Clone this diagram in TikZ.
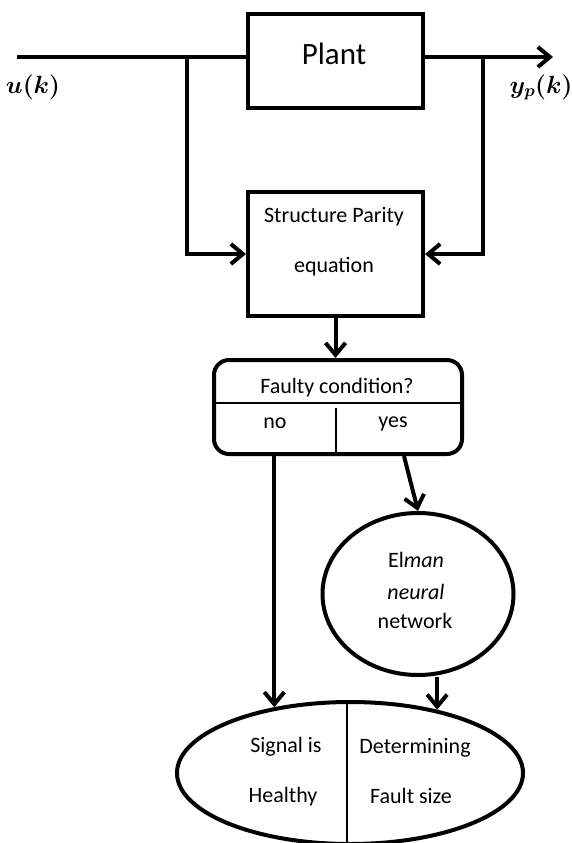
\documentclass[tikz,border=0pt]{standalone}
\usepackage{fontspec}
\setmainfont{Carlito}
\usepackage{amsmath}
\usetikzlibrary{positioning,shapes.geometric,arrows.meta}

\begin{document}
\begin{tikzpicture}[x=1pt, y=-1pt, line width=4pt,
    font=\fontsize{22}{26}\selectfont,
    block/.style={draw, rectangle, inner sep=0pt},
    oval/.style={draw, ellipse, inner sep=0pt},
    txt/.style={anchor=base, inner sep=0pt},
    signal/.style={txt, font=\fontsize{23}{27}\selectfont\boldmath},
    arr/.style={-{Straight Barb[length=12pt,width=20pt]}},
    divider/.style={line width=1.4pt}]
    \useasboundingbox (0,0) rectangle (571,843);
    % place nodes
    \node [block, minimum width=175pt, minimum height=94pt] (plant) at (335.5,61) {};
    \node [block, minimum width=175pt, minimum height=124pt, below=80pt of plant] (parity) {};
    \node [block, rounded corners=15pt, minimum width=248pt, minimum height=94pt] (fault) at (338,407) {};
    \node [oval, minimum width=191pt, minimum height=162pt] (elman) at (418,594) {};
    \node [oval, minimum width=346pt, minimum height=142pt] (result) at (350,773) {};
    \coordinate (uin) at (17,57);
    \coordinate (ubranch) at (187,57);
    \coordinate (ybranch) at (483,57);
    \coordinate (yout) at (553,57);
    % place labels
    \node [txt, font=\fontsize{31}{36}\selectfont] (plantText) at (334,65) {Plant};
    \node [signal] (uLabel) at (33,93) {$u(k)$};
    \node [signal] (yLabel) at (541,93) {$y_p(k)$};
    \node [txt] (parityA) at (334,222) {Structure Parity};
    \node [txt] (parityB) at (334,272) {equation};
    \node [txt] (faultText) at (337,393) {Faulty condition?};
    \node [txt] (noText) at (275,428) {no};
    \node [txt] (yesText) at (393,427) {yes};
    \node [txt] (elmanA) at (416,567) {El\textit{man}};
    \node [txt] (elmanB) at (416,599) {\textit{neural}};
    \node [txt] (elmanC) at (415,628) {network};
    \node [txt] (healthyA) at (286,752) {Signal is};
    \node [txt] (healthyB) at (283,802) {Healthy};
    \node [txt] (sizeA) at (415,753) {Determining};
    \node [txt] (sizeB) at (411,803) {Fault size};
    % draw edges
    \draw (uin) -- (uin -| plant.west);
    \draw [arr] (plant.east |- yout) -- (yout);
    \draw [arr] (ubranch) |- (parity.west);
    \draw [arr] (ybranch) |- (parity.east);
    \draw [arr] (parity.south) -- (parity.south |- fault.north);
    \draw [divider] ([yshift=4pt]fault.west) -- ([yshift=4pt]fault.east);
    \draw [divider] ([xshift=-2pt,yshift=-1pt]fault.center) -- ([xshift=-2pt]fault.south);
    \draw [arr] (fault.south -| result.139) -- (result.139);
    \draw [arr] ([xshift=66pt]fault.south) -- (elman.north);
    \draw [arr] (elman.south -| result.36) -- (result.36);
    \draw [divider] ([xshift=-3pt]result.north) -- ([xshift=-3pt]result.south);
\end{tikzpicture}
\end{document}
